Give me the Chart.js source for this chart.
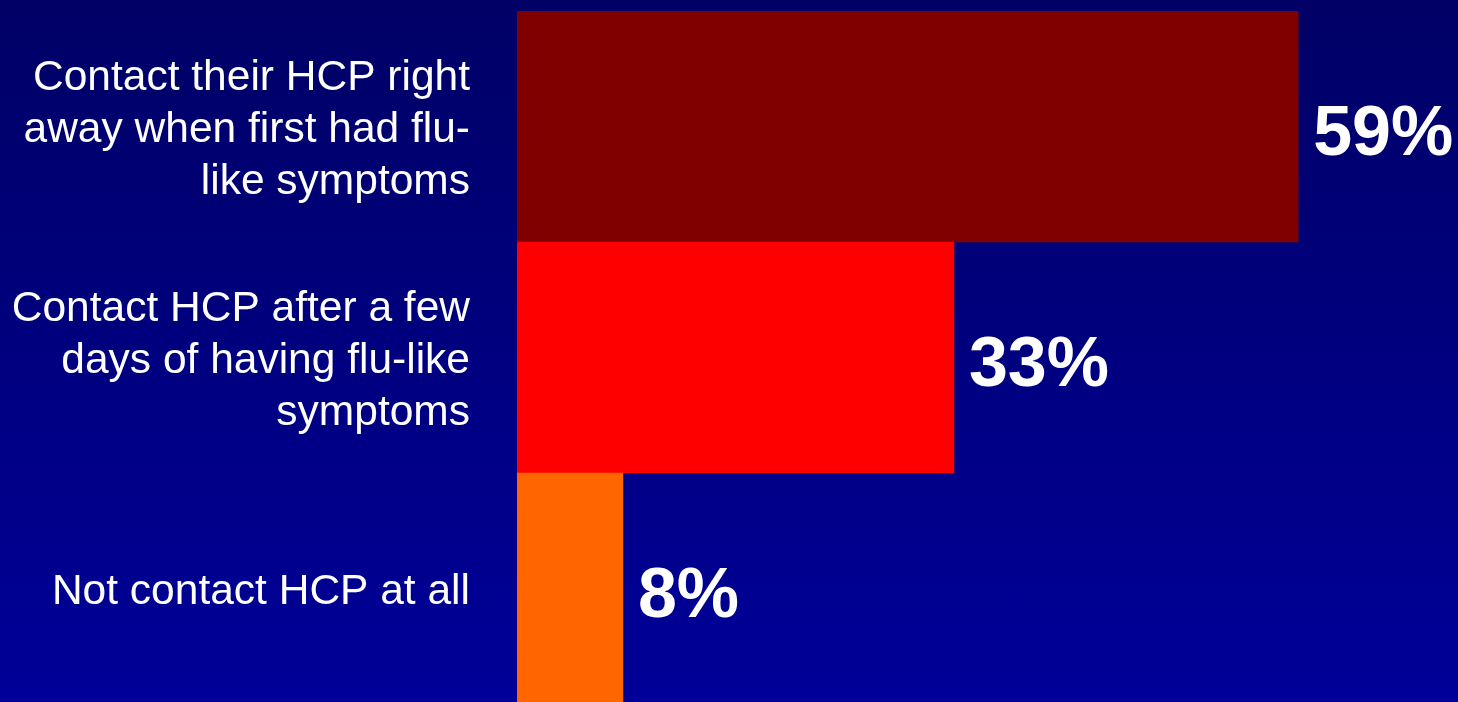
<!DOCTYPE html>
<html>
<head>
<meta charset="utf-8">
<script src="https://cdn.jsdelivr.net/npm/chart.js@4"></script>
<style>
  html, body { margin: 0; padding: 0; overflow: hidden; }
  body { width: 1458px; height: 702px; background: linear-gradient(to bottom, #000066, #000099); }
  #wrap { position: relative; width: 1458px; height: 705px; }
</style>
</head>
<body>
<div id="wrap"><canvas id="hcpChart"></canvas></div>
<script>
// categories (multi-line labels) and values in percent
var categories = [
  ["Contact their HCP right", "away when first had flu-", "like symptoms"],
  ["Contact HCP after a few", "days of having flu-like", "symptoms"],
  "Not contact HCP at all"
];
var values = [59, 33, 8];
var barColors = ["#800000", "#FF0000", "#FF6600"];

// draws the "59%" style labels just after the bar ends
var valueLabels = {
  id: "valueLabels",
  afterDatasetsDraw: function (chart) {
    var ctx = chart.ctx;
    var meta = chart.getDatasetMeta(0);
    ctx.save();
    ctx.fillStyle = "#ffffff";
    ctx.font = "bold 70px 'Liberation Sans', Arial, sans-serif";
    ctx.textAlign = "left";
    ctx.textBaseline = "middle";
    meta.data.forEach(function (bar, i) {
      ctx.fillText(values[i] + "%", bar.x + 15, bar.y + 9);
    });
    ctx.restore();
  }
};

var ctx = document.getElementById("hcpChart").getContext("2d");
new Chart(ctx, {
  type: "bar",
  data: {
    labels: categories,
    datasets: [{
      data: values,
      backgroundColor: barColors,
      borderWidth: 0,
      barPercentage: 1.0,
      categoryPercentage: 1.0
    }]
  },
  options: {
    indexAxis: "y",
    responsive: true,
    maintainAspectRatio: false,
    animation: false,
    layout: { padding: { top: 11, right: 1, bottom: 1, left: 0 } },
    scales: {
      x: {
        display: false,
        min: 0,
        max: 71
      },
      y: {
        grid: { display: false },
        border: { display: false },
        ticks: {
          color: "#ffffff",
          padding: 39,
          labelOffset: 4,
          font: { family: "'Liberation Sans', Arial, sans-serif", size: 42.5, lineHeight: 1.22 }
        },
        afterFit: function (scale) {
          // keep the bars starting at a fixed spot and filling the height
          scale.width = 517;
          scale.paddingTop = 0;
          scale.paddingBottom = 0;
        }
      }
    },
    plugins: {
      legend: { display: false },
      tooltip: { enabled: false }
    }
  },
  plugins: [valueLabels]
});
</script>
</body>
</html>
